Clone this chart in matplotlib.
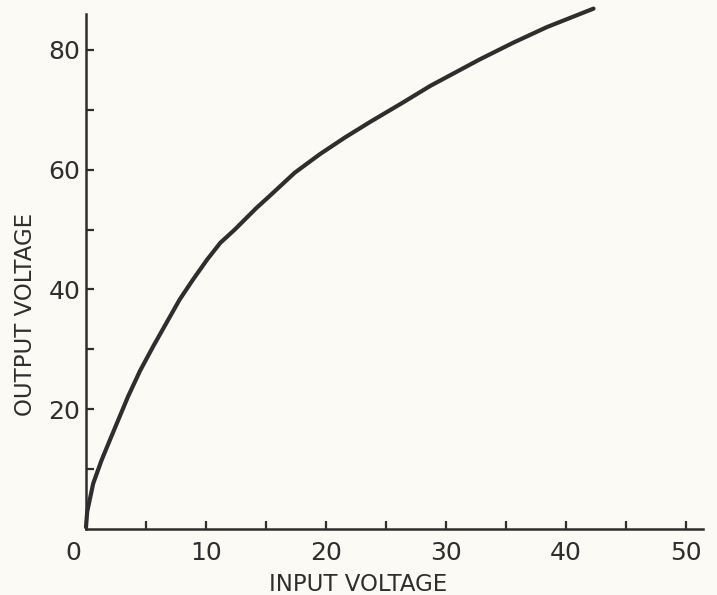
import matplotlib.pyplot as plt
import matplotlib.transforms as mtransforms
import numpy as np

input_v = [0.0, 0.1, 0.6, 1.3, 2.0, 3.5, 4.5, 5.6, 6.7, 7.8, 8.9, 10.1, 11.2,
           12.4, 14.2, 15.3, 17.4, 19.5, 21.6, 23.7, 26.4, 28.7, 32.8, 35.6, 38.4, 42.3]
output_v = [0.3, 2.9, 7.6, 11.5, 14.9, 22.1, 26.4, 30.5, 34.4, 38.3, 41.6, 45.0, 47.8,
            50.0, 53.6, 55.6, 59.5, 62.6, 65.4, 68.0, 71.2, 74.0, 78.4, 81.2, 83.8, 86.9]
x_ticks = [0, 10, 20, 30, 40, 50]
y_ticks = [20, 40, 60, 80]

ink = '#2e2e2e'
bg = '#fbfaf5'

fig = plt.figure(figsize=(7.17, 5.95), dpi=100, facecolor=bg)
ax = fig.add_axes([86/717, 66/595, 616.7/717, 515/595], facecolor=bg)

ax.plot(input_v, output_v, color=ink, lw=3.0, solid_capstyle='round',
        solid_joinstyle='round', clip_on=False, zorder=3)

ax.set_xlim(0, 51.4)
ax.set_ylim(0, 86)
for s in ['top', 'right']:
    ax.spines[s].set_visible(False)
for s in ['left', 'bottom']:
    ax.spines[s].set_color(ink)
    ax.spines[s].set_linewidth(1.8)

ax.set_xticks(x_ticks)
ax.set_xticks(np.arange(5, 50, 10), minor=True)
ax.set_yticks(y_ticks)
ax.set_yticks(np.arange(10, 90, 20), minor=True)
ax.tick_params(which='both', direction='in', length=6, width=1.6, color=ink)
ax.tick_params(axis='x', which='major', labelsize=18, labelcolor=ink, pad=9)
ax.tick_params(axis='y', which='major', labelsize=18, labelcolor=ink, pad=4)

# "0" sits a little left of the origin
zero = ax.get_xticklabels()[0]
zero.set_transform(zero.get_transform() + mtransforms.ScaledTranslation(-13/100, 0, fig.dpi_scale_trans))

ax.set_xlabel('INPUT VOLTAGE', fontsize=16.5, color=ink)
ax.set_ylabel('OUTPUT VOLTAGE', fontsize=16.5, color=ink)
ax.xaxis.set_label_coords(0.441, -0.085)
ax.yaxis.set_label_coords(-0.08, 0.417)

fig.savefig('out.png', dpi=100, facecolor=bg)
